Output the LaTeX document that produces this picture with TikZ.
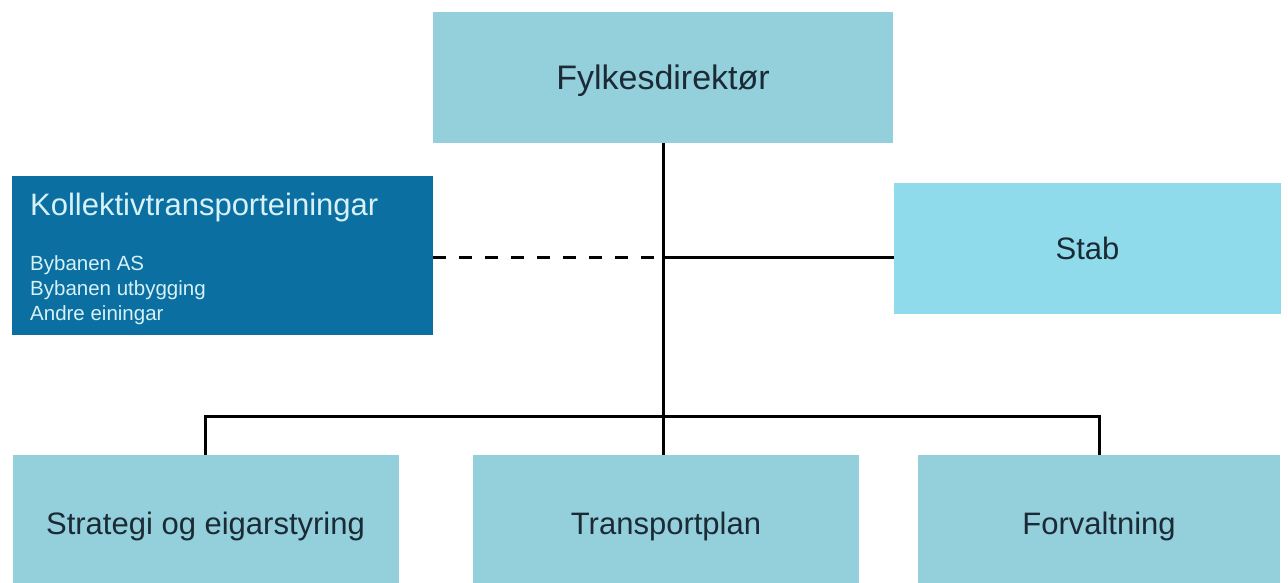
\documentclass[tikz,border=0pt]{standalone}
\usepackage{fontspec}
\setmainfont{Liberation Sans}
\usetikzlibrary{positioning}
\definecolor{boxblue}{HTML}{94CFDC}
\definecolor{stabblue}{HTML}{8FDBEC}
\definecolor{kolblue}{HTML}{0B6FA1}
\definecolor{textdark}{HTML}{1B2B35}
\definecolor{textlight}{HTML}{D6F1F7}
\tikzset{
  unit/.style={fill=boxblue, text=textdark, inner sep=0pt,
    font=\fontsize{31}{36}\selectfont, text height=22pt, text depth=0pt},
  bottomunit/.style={unit, minimum width=386pt, minimum height=128pt, text height=30pt},
  kollabel/.style={text=textlight, inner sep=0pt, anchor=base west},
  link/.style={line width=3pt, black},
}
\begin{document}
\begin{tikzpicture}[x=1pt,y=-1pt]
\useasboundingbox (0,0) rectangle (1288,583);
% top
\node[unit, minimum width=460pt, minimum height=131pt,
  font=\fontsize{34}{40}\selectfont, text height=24pt] (dir) at (663,77.5) {Fylkesdirektør};
% side boxes
\node[fill=kolblue, minimum width=421pt, minimum height=159pt, inner sep=0pt] (kol) at (222.5,255.5) {};
\node[kollabel, font=\fontsize{31}{36}\selectfont] (koltitle) at (30,215) {Kollektivtransporteiningar};
\foreach \t [count=\i] in {Bybanen AS, Bybanen utbygging, Andre einingar}
  \node[kollabel, font=\fontsize{20.5}{25}\selectfont] (kol\i) at (30,245+25*\i) {\t};
\node[unit, fill=stabblue, minimum width=387pt, minimum height=131pt] (stab) at (1087.5,248.5) {Stab};
% bottom
\node[bottomunit] (strategi) at (205.5,519) {Strategi og eigarstyring};
\node[bottomunit] (plan) at (666,519) {Transportplan};
\node[bottomunit, minimum width=362pt] (forv) at (1099,519) {Forvaltning};
% lines
\coordinate (hub) at (663,257);
\coordinate (bus) at (663,416);
\draw[link] (dir.south) -- (dir.south |- plan.north);
\draw[link] (strategi.north) |- (bus) -| (forv.north);
\draw[link] (hub) -- (hub -| stab.west);
\draw[link, dash pattern=on 13pt off 13pt] (kol.east |- hub) -- (hub);
\end{tikzpicture}
\end{document}
